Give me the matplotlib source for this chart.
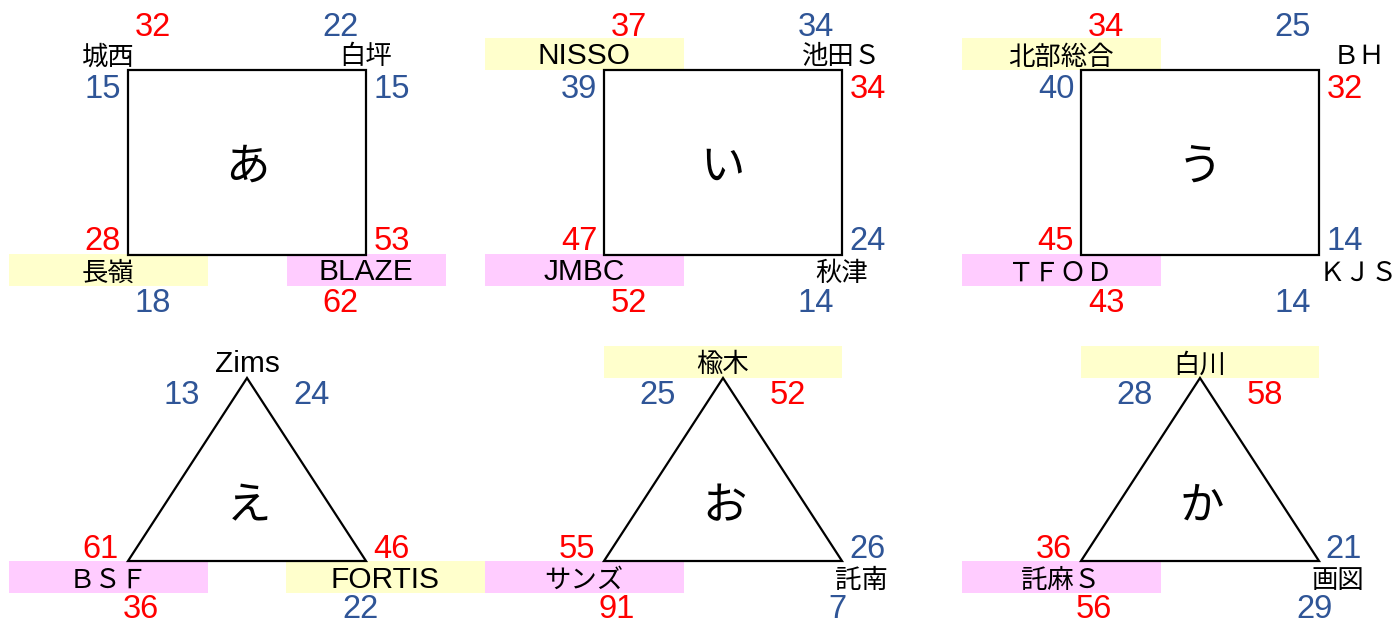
import matplotlib
matplotlib.use('Agg')
import matplotlib.pyplot as plt
from matplotlib.patches import Rectangle, Polygon

plt.rcParams['font.family'] = ['Liberation Sans', 'Noto Sans CJK JP', 'DejaVu Sans']

# ---------------- data ----------------
groups = ['あ', 'い', 'う', 'え', 'お', 'か']

# rectangle groups: top-left, top-right, bottom-left, bottom-right
teams_a = ['城西', '白坪', '長嶺', 'BLAZE']
teams_i = ['NISSO', '池田Ｓ', 'JMBC', '秋津']
teams_u = ['北部総合', 'ＢＨ', 'ＴＦＯＤ', 'ＫＪＳ']
# triangle groups: apex, bottom-left, bottom-right
teams_e = ['Zims', 'ＢＳＦ', 'FORTIS']
teams_o = ['楡木', 'サンズ', '託南']
teams_ka = ['白川', '託麻Ｓ', '画図']

# rectangle matches: top (TL-TR), left (TL-BL), right (TR-BR), bottom (BL-BR)
scores_a = [(32, 22), (15, 28), (15, 53), (18, 62)]
scores_i = [(37, 34), (39, 47), (34, 24), (52, 14)]
scores_u = [(34, 25), (40, 45), (32, 14), (43, 14)]
# triangle matches: left (apex-BL), right (apex-BR), base (BL-BR)
scores_e = [(13, 61), (24, 46), (36, 22)]
scores_o = [(25, 55), (52, 26), (91, 7)]
scores_ka = [(28, 36), (58, 21), (56, 29)]

first_place = ['BLAZE', 'JMBC', 'ＴＦＯＤ', 'ＢＳＦ', 'サンズ', '託麻Ｓ']
second_place = ['長嶺', 'NISSO', '北部総合', 'FORTIS', '楡木', '白川']

# ---------------- style ----------------
RED = '#FF0000'
BLUE = '#2F5597'
PINK = '#FFCCFF'
YELLOW = '#FFFFCC'
NUM_FS = 23.5
KANA_FS = 32
LW = 1.6

col_left = [128, 604, 1081]
col_width = 238
rect_top, rect_bottom = 70, 255
tri_top, tri_bottom = 378, 561

box_half = {'BLAZE': 79.5}
name_dx = {'ＢＨ': 40, 'ＫＪＳ': 39}

fig = plt.figure(figsize=(14, 6.2), dpi=100)
ax = fig.add_axes([0, 0, 1, 1])
ax.set_xlim(0, 1400)
ax.set_ylim(620, 0)
ax.axis('off')


def num(x, y, a, b):
    color = RED if a > b else BLUE
    ax.text(x, y + 11.5, str(a), color=color, fontsize=NUM_FS,
            ha='center', va='baseline', zorder=5)


def name(x, y, t, half=99.5):
    x = x + name_dx.get(t, 0)
    h = box_half.get(t, half)
    if t in first_place or t in second_place:
        c = PINK if t in first_place else YELLOW
        ax.add_patch(Rectangle((x - h, y - 16), 2 * h, 32, facecolor=c,
                               edgecolor='none', zorder=1))
    fs = 21.5 if t.isascii() else 19
    ax.text(x, y + 10.5, t, color='black', fontsize=fs, ha='center',
            va='baseline', zorder=5)


rect_groups = [(groups[0], teams_a, scores_a),
               (groups[1], teams_i, scores_i),
               (groups[2], teams_u, scores_u)]
for i, (g, teams, sc) in enumerate(rect_groups):
    L = col_left[i]
    R = L + col_width
    T, B = rect_top, rect_bottom
    ax.add_patch(Rectangle((L, T), R - L, B - T, facecolor='white',
                           edgecolor='black', lw=LW, zorder=3))
    ax.text((L + R) / 2, (T + B) / 2 + 17, g, fontsize=KANA_FS,
            ha='center', va='baseline', zorder=5)
    tl, tr, bl, br = teams
    name(L - 20, T - 16, tl)
    name(R, T - 16, tr)
    name(L - 20, B + 15, bl)
    name(R, B + 15, br)
    (a, b), (c, d), (e, f), (g2, h2) = sc
    num(L + 25, T - 46, a, b)
    num(R - 26, T - 46, b, a)
    num(L - 25, T + 16, c, d)
    num(L - 25, B - 16, d, c)
    num(R + 26, T + 16, e, f)
    num(R + 26, B - 16, f, e)
    num(L + 25, B + 46, g2, h2)
    num(R - 26, B + 46, h2, g2)

tri_groups = [(groups[3], teams_e, scores_e),
              (groups[4], teams_o, scores_o),
              (groups[5], teams_ka, scores_ka)]
for i, (g, teams, sc) in enumerate(tri_groups):
    L = col_left[i]
    R = L + col_width
    cx = (L + R) / 2
    T, B = tri_top, tri_bottom
    ax.add_patch(Polygon([(cx, T), (L, B), (R, B)], closed=True,
                         facecolor='white', edgecolor='black', lw=LW,
                         joinstyle='miter', zorder=3))
    ax.text(cx + 2, 502 + 17, g, fontsize=KANA_FS, ha='center',
            va='baseline', zorder=5)
    ap, bl, br = teams
    name(cx, T - 16, ap, half=119)
    name(L - 20, B + 16, bl)
    name(R + 19, B + 16, br)
    (a, b), (c, d), (e, f) = sc
    num(cx - 65, T + 14, a, b)
    num(L - 27, B - 14, b, a)
    num(cx + 65, T + 14, c, d)
    num(R + 25, B - 14, d, c)
    num(L + 13, B + 45, e, f)
    num(R - 5, B + 45, f, e)

fig.savefig('out.png', dpi=100, facecolor='white')
